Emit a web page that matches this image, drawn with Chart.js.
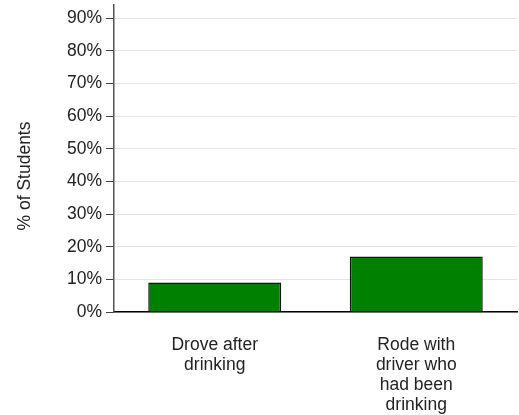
<!DOCTYPE html>
<html>
<head>
<meta charset="utf-8">
<script src="https://cdn.jsdelivr.net/npm/chart.js@4/dist/chart.umd.min.js"></script>
<style>
    html, body { margin: 0; padding: 0; background: #fff; }
    #wrap { width: 519px; height: 415px; position: relative; }
</style>
</head>
<body>
<div id="wrap"><canvas id="chart"></canvas></div>
<script>
// data
const categories = [
    ['Drove after', 'drinking'],
    ['Rode with', 'driver who', 'had been', 'drinking'],
]
const percentStudents = [9, 17]
const yTicks = [0, 10, 20, 30, 40, 50, 60, 70, 80, 90]
const yTitle = '% of Students'

const font = {
    family: "'Liberation Sans', Arial, sans-serif",
    size: 17.5,
    lineHeight: 1.15,
}

// y title sits a bit below the middle of the plot, so draw it by hand
const yTitlePlugin = {
    id: 'yTitle',
    afterDraw(chart) {
        const c = chart.ctx
        c.save()
        c.translate(25, 176)
        c.rotate(-Math.PI / 2)
        c.font = '17.5px ' + font.family
        c.fillStyle = '#222'
        c.textAlign = 'center'
        c.textBaseline = 'middle'
        c.fillText(yTitle, 0, 0)
        c.restore()
    },
}

const ctx = document.getElementById('chart').getContext('2d')
new Chart(ctx, {
    type: 'bar',
    data: {
        labels: categories,
        datasets: [
            {
                data: percentStudents,
                backgroundColor: '#008000',
                borderColor: '#111',
                borderWidth: 1.5,
                categoryPercentage: 0.66,
                barPercentage: 1,
            },
        ],
    },
    plugins: [yTitlePlugin],
    options: {
        responsive: true,
        maintainAspectRatio: false,
        animation: false,
        layout: { padding: { top: 5, right: 2, left: 0, bottom: 0 } },
        plugins: {
            legend: { display: false },
            tooltip: { enabled: false },
        },
        scales: {
            x: {
                grid: { display: false, drawTicks: false },
                border: { color: '#000', width: 1.5 },
                ticks: {
                    color: '#222',
                    font: font,
                    padding: 23,
                    maxRotation: 0,
                    autoSkip: false,
                },
                afterFit: (scale) => {
                    scale.height = 103
                },
            },
            y: {
                min: 0,
                max: 94,
                afterBuildTicks: (scale) => {
                    scale.ticks = yTicks.map((v) => ({ value: v }))
                },
                grid: {
                    color: '#e4e4e4',
                    tickColor: '#444',
                    tickLength: 8,
                },
                border: { color: '#555', width: 1.5 },
                ticks: {
                    color: '#222',
                    font: font,
                    padding: 4,
                    callback: (v) => v + '%',
                },
                afterFit: (scale) => {
                    scale.width = 114
                    scale.paddingTop = 0
                    scale.paddingBottom = 0
                },
            },
        },
    },
})
</script>
</body>
</html>
